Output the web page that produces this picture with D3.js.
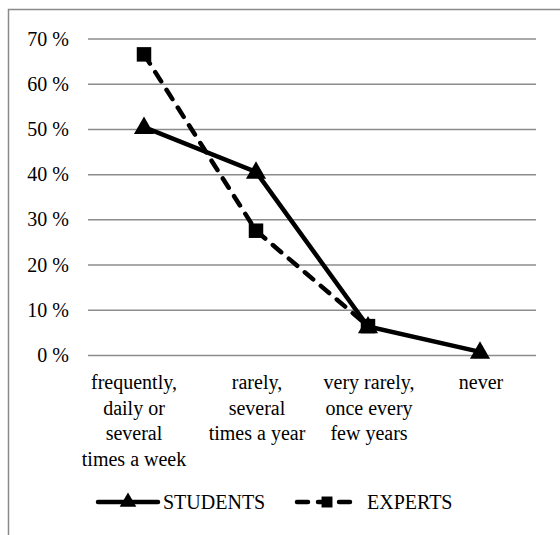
<!DOCTYPE html>
<html>
<head>
<meta charset="utf-8">
<script src="https://cdn.jsdelivr.net/npm/d3@7"></script>
<style>
  body { margin: 0; background: #fff; }
</style>
</head>
<body>
<svg id="chart" width="560" height="535"></svg>
<script>
// categories (x axis) and series values in percent
const categories = [
  ["frequently,", "daily or", "several", "times a week"],
  ["rarely,", "several", "times a year"],
  ["very rarely,", "once every", "few years"],
  ["never"]
];
const students = [50.5, 40.6, 6.4, 0.8];
const experts = [66.6, 27.6, 6.5, null];
const yTicks = [0, 10, 20, 30, 40, 50, 60, 70];
const seriesNames = ["STUDENTS", "EXPERTS"];

const FONT = 'Liberation Serif';
const FS = 20;

const svg = d3.select('#chart');

// outer frame, only the top and left edges are inside the picture
svg.append('path')
  .attr('d', 'M8.5,535 V9.5 H560')
  .attr('fill', 'none')
  .attr('stroke', '#8a8a8a')
  .attr('stroke-width', 1.5);

const x = d3.scaleBand()
  .domain(d3.range(categories.length))
  .range([88, 536]);

const y = d3.scaleLinear()
  .domain([0, 70])
  .range([355.5, 39]);

const cx = i => x(i) + x.bandwidth() / 2;

// gridlines
svg.append('g').selectAll('line').data(yTicks).enter().append('line')
  .attr('x1', 88)
  .attr('x2', 536)
  .attr('y1', d => y(d))
  .attr('y2', d => y(d))
  .attr('stroke', '#8c8c8c')
  .attr('stroke-width', 1.5);

// y labels
svg.append('g').selectAll('text').data(yTicks).enter().append('text')
  .attr('x', 69)
  .attr('y', d => y(d) + 6.5)
  .attr('text-anchor', 'end')
  .attr('font-family', FONT)
  .attr('font-size', FS)
  .text(d => d + ' %');

// category labels (the first one sits a bit left of its tick, like in excel)
const cat = svg.append('g').selectAll('text').data(categories).enter().append('text')
  .attr('text-anchor', 'middle')
  .attr('font-family', FONT)
  .attr('font-size', FS);
cat.selectAll('tspan').data((d, i) => d.map(t => ({ t, i }))).enter().append('tspan')
  .attr('x', d => cx(d.i) + (d.i === 0 ? -10 : 1))
  .attr('y', (d, j) => 389 + j * 25.5)
  .text(d => d.t);

const line = d3.line()
  .defined(d => d != null)
  .x((d, i) => cx(i))
  .y(d => y(d));

const triangle = d3.symbol().type(d3.symbolTriangle).size(175);
const square = d3.symbol().type(d3.symbolSquare).size(210);

// EXPERTS (dashed, squares)
svg.append('path')
  .datum(experts)
  .attr('d', line)
  .attr('fill', 'none')
  .attr('stroke', '#000')
  .attr('stroke-width', 4.5)
  .attr('stroke-linecap', 'round')
  .attr('stroke-dasharray', '11,10');

svg.append('g').selectAll('path').data(experts.map((v, i) => ({ v, i })).filter(d => d.v != null))
  .enter().append('path')
  .attr('d', square)
  .attr('transform', d => `translate(${cx(d.i)},${y(d.v)})`)
  .attr('fill', '#000');

// STUDENTS (solid, triangles)
svg.append('path')
  .datum(students)
  .attr('d', line)
  .attr('fill', 'none')
  .attr('stroke', '#000')
  .attr('stroke-width', 4.5);

svg.append('g').selectAll('path').data(students.map((v, i) => ({ v, i })))
  .enter().append('path')
  .attr('d', triangle)
  .attr('transform', d => `translate(${cx(d.i)},${y(d.v) + 1})`)
  .attr('fill', '#000');

// legend
const legendY = 502;
const legend = [
  { name: seriesNames[0], x0: 96, tx: 67, dash: null, sym: triangle },
  { name: seriesNames[1], x0: 295, tx: 72, dash: '11,10', sym: square }
];
const lg = svg.append('g').selectAll('g').data(legend).enter().append('g');
lg.append('line')
  .attr('x1', d => d.x0 + 2)
  .attr('x2', d => d.x0 + 62)
  .attr('y1', legendY)
  .attr('y2', legendY)
  .attr('stroke', '#000')
  .attr('stroke-width', 4.5)
  .attr('stroke-linecap', 'round')
  .attr('stroke-dasharray', d => d.dash);
lg.append('path')
  .attr('d', d => d.sym.size(120)())
  .attr('transform', d => `translate(${d.x0 + 32},${legendY})`)
  .attr('fill', '#000');
lg.append('text')
  .attr('x', d => d.x0 + d.tx)
  .attr('y', legendY + 6.5)
  .attr('font-family', FONT)
  .attr('font-size', FS)
  .text(d => d.name);
</script>
</body>
</html>
